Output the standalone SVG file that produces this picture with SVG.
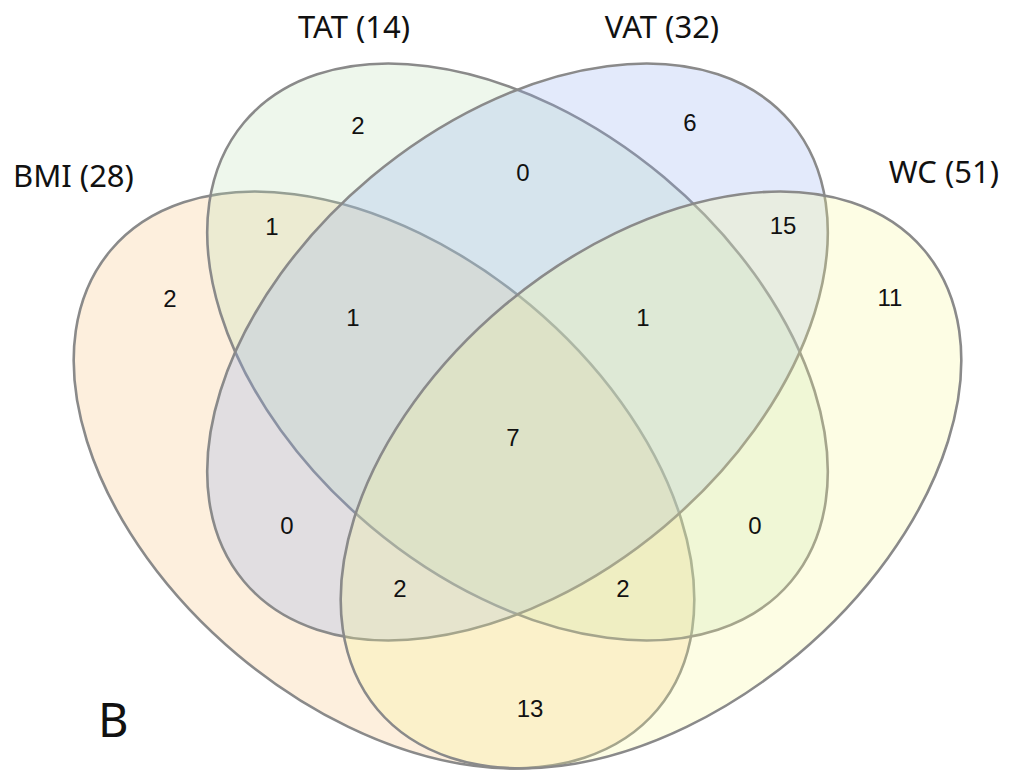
<svg xmlns="http://www.w3.org/2000/svg" width="1017" height="773" viewBox="0 0 1017 773">
<style>
.set{stroke:#8a8a8a;stroke-width:2.6;fill-opacity:0.25}
.title{font-family:"Noto Sans","Open Sans",sans-serif;font-size:31px;fill:#111}
.num{font-family:"Liberation Sans",Arial,sans-serif;font-size:24px;fill:#111;text-anchor:middle}
</style>
<rect width="1017" height="773" fill="#ffffff"/>
<g id="bmi">
<ellipse class="set" cx="0" cy="0" rx="357" ry="228" fill="#F7BF77" transform="translate(384 480) rotate(40)"/>
<text class="title" x="13" y="187">BMI (28)</text>
</g>
<g id="tat">
<ellipse class="set" cx="0" cy="0" rx="357" ry="228" fill="#BBDFB3" transform="translate(517.5 352) rotate(40)"/>
<text class="title" x="354" y="38" text-anchor="middle">TAT (14)</text>
</g>
<g id="vat">
<ellipse class="set" cx="0" cy="0" rx="357" ry="228" fill="#8FABEF" transform="translate(517.5 352) rotate(-40)"/>
<text class="title" x="662" y="38" text-anchor="middle">VAT (32)</text>
</g>
<g id="wc">
<ellipse class="set" cx="0" cy="0" rx="357" ry="228" fill="#F7F793" transform="translate(651 480) rotate(-40)"/>
<text class="title" x="999" y="183" text-anchor="end">WC (51)</text>
</g>
<g id="counts">
<text class="num" x="170" y="306.6">2</text>
<text class="num" x="272" y="234.6">1</text>
<text class="num" x="358" y="133.6">2</text>
<text class="num" x="523" y="180.6">0</text>
<text class="num" x="690" y="130.6">6</text>
<text class="num" x="783" y="233.6">15</text>
<text class="num" x="890" y="305.6">11</text>
<text class="num" x="353" y="325.6">1</text>
<text class="num" x="643" y="325.6">1</text>
<text class="num" x="513" y="445.6">7</text>
<text class="num" x="287" y="533.6">0</text>
<text class="num" x="755" y="533.6">0</text>
<text class="num" x="400" y="596.6">2</text>
<text class="num" x="623" y="596.6">2</text>
<text class="num" x="530" y="716.6">13</text>
</g>
<text id="panel" x="98" y="737" style="font-family:'Noto Sans','Open Sans',sans-serif;font-size:47px;fill:#111">B</text>
</svg>
